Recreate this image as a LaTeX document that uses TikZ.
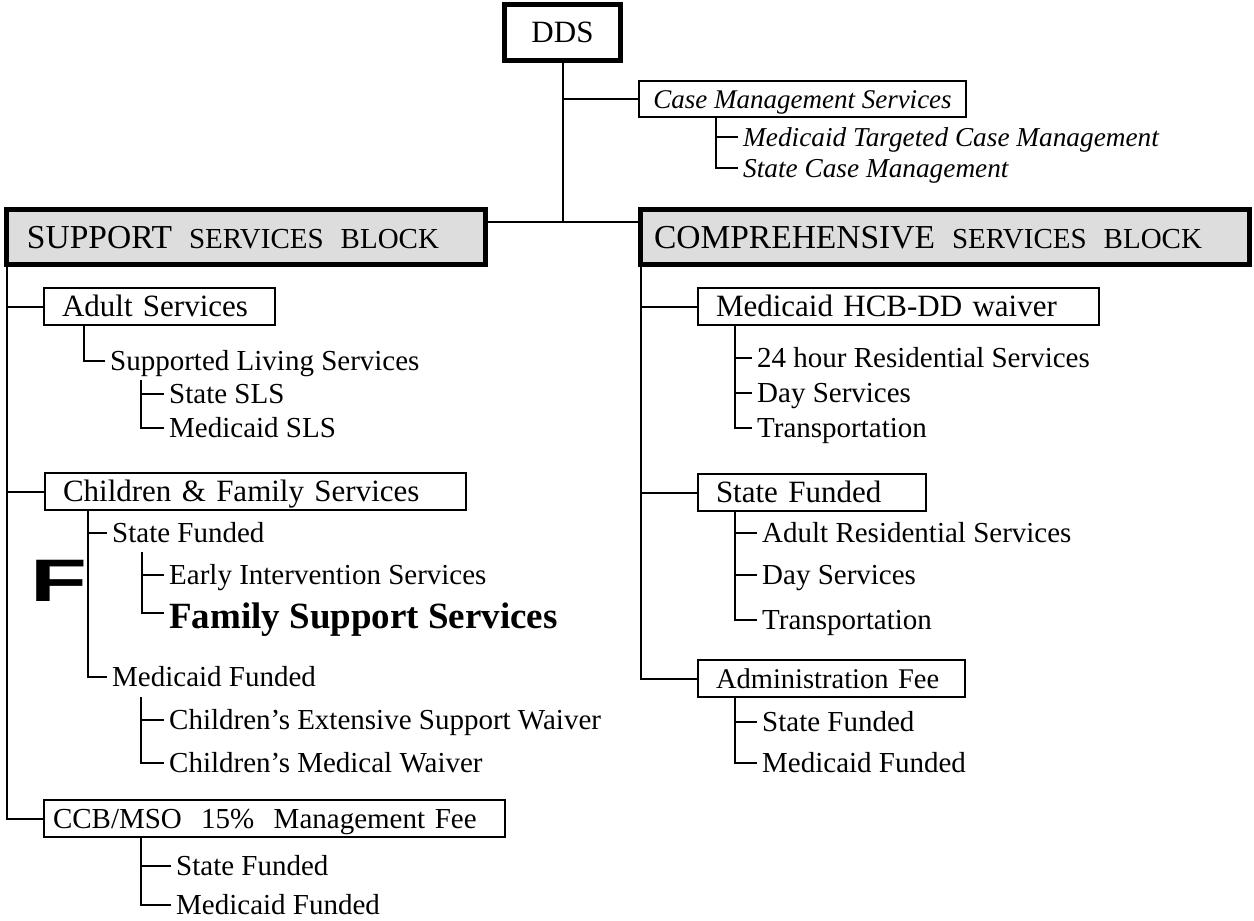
\documentclass[tikz,border=0pt]{standalone}
\usepackage{fontspec}
\setmainfont{Liberation Serif}
\setsansfont{Liberation Sans}
\usepackage{graphicx}
\definecolor{hdrgray}{RGB}{221,221,221}
\newcommand{\hdrbig}{\fontsize{33.5}{38}\selectfont}
\newcommand{\hdrsmall}{\fontsize{29}{34}\selectfont}
\newcommand{\hgap}{\hspace{17pt}}

\begin{document}
\begin{tikzpicture}[x=1pt, y=-1pt,
  body/.style={font=\fontsize{29}{34}\selectfont},
  rootbox/.style={draw, line width=5pt, outer sep=0pt, minimum width=116pt,
                  minimum height=56pt, font=\fontsize{31}{36}\selectfont},
  hdr/.style={draw, line width=5pt, fill=hdrgray, outer sep=0pt,
              minimum height=55pt, align=left, text height=22pt, text depth=0pt},
  grp/.style={draw, line width=2pt, outer sep=0pt, minimum height=37pt,
              inner xsep=18pt, align=left, text height=20.5pt, text depth=0pt,
              font=\fontsize{31}{36}\selectfont},
  casebox/.style={draw, line width=1.5pt, outer sep=0pt, minimum height=36pt,
                  inner xsep=14pt, text height=18pt, text depth=0pt,
                  font=\fontsize{27}{32}\selectfont\itshape},
  leaf/.style={anchor=west, inner xsep=5pt, inner ysep=2pt,
               text height=19pt, text depth=0pt, body},
  sub/.style={leaf, text height=18pt, font=\fontsize{27.3}{32}\selectfont\itshape},
  wire/.style={line width=2pt}]

\useasboundingbox (0,0) rectangle (1254,921);

% top of the tree
\node[rootbox] (dds) at (562.5,32.5) {DDS};
\node[casebox, minimum width=327pt] (cms) at (802.5,99) {Case Management Services};
\node[sub] (mtcm) at (738,137) {Medicaid Targeted Case Management};
\node[sub] (scm) at (738,168) {State Case Management};

\node[hdr, inner xsep=20.5pt, text width=438pt] (sup) at (246,237)
  {{\hdrbig SUPPORT}\hgap\hdrsmall SERVICES\hgap BLOCK};
\node[hdr, inner xsep=13.5pt, text width=582pt] (comp) at (945,237)
  {{\hdrbig COMPREHENSIVE}\hgap\hdrsmall SERVICES\hgap BLOCK};
\coordinate (hub) at (562.5,222);

% support block
\node[grp, text width=195pt] (adult) at (159.5,306.5) {Adult Services};
\node[leaf] (sls) at (105,361) {Supported Living Services};
\node[leaf] (ssls) at (164,394) {State SLS};
\node[leaf] (msls) at (164,428) {Medicaid SLS};

\node[grp, text width=385pt] (chf) at (255.5,491.5) {Children \& Family Services};
\node[leaf] (csf) at (107,533) {State Funded};
\node[leaf] (eis) at (164,575) {Early Intervention Services};
\node[leaf, text height=30pt, font=\fontsize{37}{42}\selectfont\bfseries] (fss)
  at (164,613) {Family Support Services};
\node[leaf] (cmf) at (107,677) {Medicaid Funded};
\node[leaf] (cesw) at (164,720) {Children’s Extensive Support Waiver};
\node[leaf] (cmw) at (164,763) {Children’s Medical Waiver};
\node[font=\sffamily\bfseries\fontsize{60}{60}\selectfont] (fmark) at (59,580.5)
  {\scalebox{1.55}[1]{F}};

\node[grp, body, text height=19pt, inner xsep=9pt, text width=443pt] (ccb)
  at (274.5,818.5) {CCB/MSO\ \ 15\%\ \ Management Fee};
\node[leaf] (ccbs) at (171,866) {State Funded};
\node[leaf] (ccbm) at (171,905) {Medicaid Funded};

% comprehensive block
\node[grp, text width=365pt] (hcb) at (898.5,306.5) {Medicaid HCB-DD waiver};
\node[leaf] (hres) at (752,358) {24 hour Residential Services};
\node[leaf] (hday) at (752,393) {Day Services};
\node[leaf] (htr) at (752,428) {Transportation};

\node[grp, text width=192pt] (sf) at (812,492.5) {State Funded};
\node[leaf] (sres) at (757,533) {Adult Residential Services};
\node[leaf] (sday) at (757,575) {Day Services};
\node[leaf] (str) at (757,620) {Transportation};

\node[grp, text height=19pt, font=\fontsize{28.5}{33}\selectfont, text width=231pt]
  (adm) at (831.5,678.5) {Administration Fee};
\node[leaf] (afs) at (757,722) {State Funded};
\node[leaf] (afm) at (757,763) {Medicaid Funded};

% connectors
\draw[wire] (dds.south) -- (hub);
\draw[wire] (sup.east |- hub) -- (comp.west |- hub);
\draw[wire] (dds.south |- cms.west) -- (cms.west);
\draw[wire] (cms.south west) ++(77,0) |- (mtcm.west);
\draw[wire] (cms.south west) ++(77,0) |- (scm.west);

\draw[wire] (sup.south west) |- (ccb.west);
\draw[wire] (sup.south west |- adult.west) -- (adult.west);
\draw[wire] (sup.south west |- chf.west) -- (chf.west);
\draw[wire] (adult.south west) ++(40,0) |- (sls.west);
\draw[wire] (sls.west) ++(36,19) |- (ssls.west);
\draw[wire] (sls.west) ++(36,19) |- (msls.west);
\draw[wire] (chf.south west) ++(43,0) |- (csf.west);
\draw[wire] (chf.south west) ++(43,0) |- (cmf.west);
\draw[wire] (csf.west) ++(35,19) |- (eis.west);
\draw[wire] (csf.west) ++(35,19) |- (fss.west);
\draw[wire] (cmf.west) ++(34,20) |- (cesw.west);
\draw[wire] (cmf.west) ++(34,20) |- (cmw.west);
\draw[wire] (ccb.south west) ++(97,0) |- (ccbs.west);
\draw[wire] (ccb.south west) ++(97,0) |- (ccbm.west);

\draw[wire] (comp.south west) |- (adm.west);
\draw[wire] (comp.south west |- hcb.west) -- (hcb.west);
\draw[wire] (comp.south west |- sf.west) -- (sf.west);
\draw[wire] (hcb.south west) ++(37,0) |- (hres.west);
\draw[wire] (hcb.south west) ++(37,0) |- (hday.west);
\draw[wire] (hcb.south west) ++(37,0) |- (htr.west);
\draw[wire] (sf.south west) ++(37,0) |- (sres.west);
\draw[wire] (sf.south west) ++(37,0) |- (sday.west);
\draw[wire] (sf.south west) ++(37,0) |- (str.west);
\draw[wire] (adm.south west) ++(37,0) |- (afs.west);
\draw[wire] (adm.south west) ++(37,0) |- (afm.west);
\end{tikzpicture}
\end{document}
